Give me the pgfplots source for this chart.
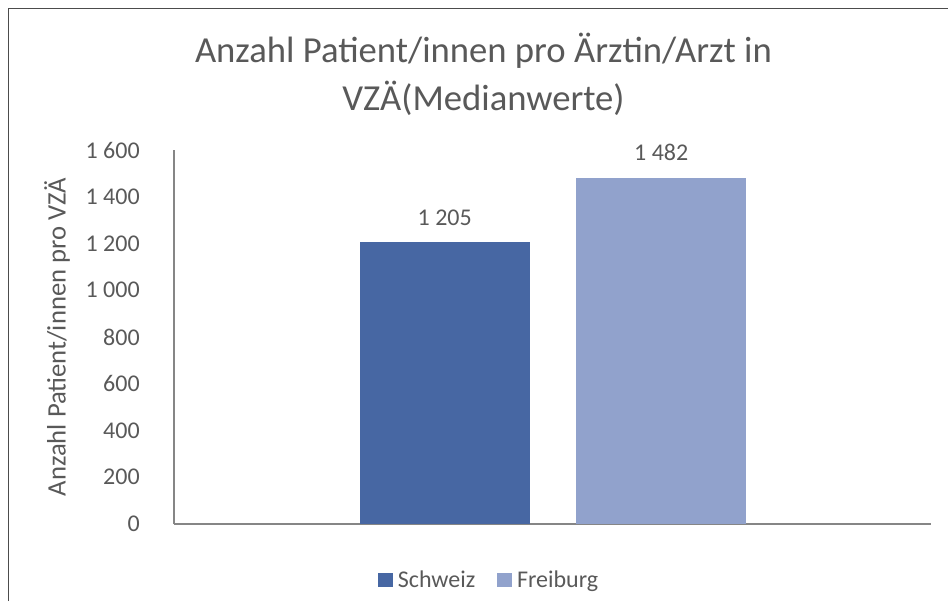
\documentclass[border=0pt]{standalone}
\usepackage{fontspec}
\setmainfont{Carlito}
\usepackage{pgfplots}
\pgfplotsset{compat=1.18}

\definecolor{schweiz}{HTML}{4767A3}
\definecolor{freiburg}{HTML}{91A2CC}
\definecolor{txt}{HTML}{595959}
\definecolor{axisgray}{HTML}{868686}

\begin{document}
\begin{tikzpicture}
% canvas 948x601 px at 0.75pt per px
\useasboundingbox (0,0) rectangle (711pt,-450.75pt);
\draw[black!70, line width=0.75pt] (6pt,-450.75pt) -- (6pt,-6pt) -- (711pt,-6pt);

\node[font=\fontsize{27.5}{33}\selectfont, text=txt, anchor=base, inner sep=0pt]
  at (362.6pt,-47pt) {Anzahl Patient/innen pro Ärztin/Arzt in};
\node[font=\fontsize{27.5}{33}\selectfont, text=txt, anchor=base, inner sep=0pt]
  at (362.6pt,-82.9pt) {VZÄ(Medianwerte)};

\begin{axis}[
  at={(130.5pt,-393pt)}, anchor=south west,
  scale only axis,
  width=567.75pt, height=280.5pt,
  ybar,
  xmin=-379, xmax=378,
  ymin=0, ymax=1600,
  ytick={0,200,...,1600},
  xtick=\empty,
  axis x line=bottom, axis y line=left,
  axis line style={-, axisgray, line width=1pt},
  major tick length=0pt,
  /pgf/number format/assume math mode=true,
  /pgf/number format/1000 sep={~},
  tick label style={font=\fontsize{18}{22}\selectfont, text=txt},
  yticklabel style={anchor=east, inner sep=0pt, xshift=-25.5pt},
  ylabel={Anzahl Patient/innen pro VZÄ},
  every axis y label/.style={at={(axis description cs:-0.1546,0.5)}, rotate=90, anchor=center,
    font=\fontsize{20}{24}\selectfont, text=txt},
  bar width=127.5pt,
  nodes near coords,
  nodes near coords style={font=\fontsize{18}{22}\selectfont, text=txt, anchor=base, yshift=12.5pt},
  legend columns=2,
  legend style={draw=none, fill=none, at={(axis description cs:0.415,-0.15)}, anchor=center,
    font=\fontsize{18}{22}\selectfont, text=txt,
    /tikz/every odd column/.append style={column sep=3.75pt},
    /tikz/every even column/.append style={column sep=16.5pt},
    nodes={inner sep=0pt}},
  legend image code/.code={\fill[#1, draw=none] (0pt,-5.5pt) rectangle (11pt,5.5pt);},
]
\addplot[fill=schweiz, draw=none, bar shift=-81.2pt] coordinates {(0,1205)};
\addplot[fill=freiburg, draw=none, bar shift=81.2pt] coordinates {(0,1482)};
\legend{Schweiz,Freiburg}
\end{axis}
\end{tikzpicture}
\end{document}
